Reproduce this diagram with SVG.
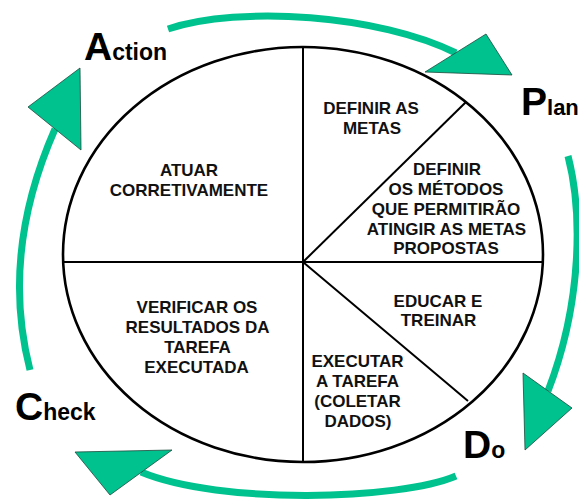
<svg xmlns="http://www.w3.org/2000/svg" width="579" height="503" viewBox="0 0 579 503">
<style>
.t{font-family:"Liberation Sans",Arial,sans-serif;font-weight:bold;font-size:17px;fill:#111;text-anchor:middle}
.big{font-family:"Liberation Sans",Arial,sans-serif;font-weight:bold;fill:#000}
.cap{font-size:39px}
.sm{font-size:23px}
.band{fill:none;stroke:#00C28F;stroke-width:7}
.head{fill:#00C28F;stroke:#1d4a3c;stroke-width:0.8;stroke-linejoin:miter}
.div{stroke:#000;stroke-width:2;fill:none}
</style>
<rect width="579" height="503" fill="#fff"/>
<g id="cycle">
<ellipse cx="303" cy="254.5" rx="240" ry="207.5" fill="#fff" stroke="#000" stroke-width="2.6"/>
<line class="div" x1="303" y1="47" x2="303" y2="462"/>
<line class="div" x1="63" y1="262" x2="543" y2="262"/>
<line class="div" x1="303" y1="262" x2="466" y2="102"/>
<line class="div" x1="303" y1="262" x2="468" y2="401"/>
</g>
<g id="atuar"><text class="t" x="189" y="176">ATUAR</text><text class="t" x="189" y="196">CORRETIVAMENTE</text></g>
<g id="definir-metas"><text class="t" x="371" y="114">DEFINIR AS</text><text class="t" x="372" y="134">METAS</text></g>
<g id="definir-metodos"><text class="t" x="447" y="175">DEFINIR</text><text class="t" x="446" y="195">OS MÉTODOS</text><text class="t" x="446" y="215">QUE PERMITIRÃO</text><text class="t" x="446.5" y="235">ATINGIR AS METAS</text><text class="t" x="446" y="254">PROPOSTAS</text></g>
<g id="educar"><text class="t" x="438" y="307">EDUCAR E</text><text class="t" x="438.5" y="326">TREINAR</text></g>
<g id="executar"><text class="t" x="357.5" y="367">EXECUTAR</text><text class="t" x="357.5" y="387">A TAREFA</text><text class="t" x="357.5" y="407">(COLETAR</text><text class="t" x="358" y="427">DADOS)</text></g>
<g id="verificar"><text class="t" x="197" y="313">VERIFICAR OS</text><text class="t" x="197.5" y="333">RESULTADOS DA</text><text class="t" x="197.5" y="353">TAREFA</text><text class="t" x="196.5" y="373">EXECUTADA</text></g>
<g id="label-action"><text class="big" x="84" y="60"><tspan class="cap">A</tspan><tspan class="sm">ction</tspan></text></g>
<g id="label-plan"><text class="big" x="521" y="115"><tspan class="cap">P</tspan><tspan style="font-size:22px">lan</tspan></text></g>
<g id="label-do"><text class="big" x="463" y="458"><tspan class="cap">D</tspan><tspan class="sm">o</tspan></text></g>
<g id="label-check"><text class="big" x="15" y="420"><tspan class="cap">C</tspan><tspan class="sm">heck</tspan></text></g>
<g id="connectors">
<path class="band" d="M168,29 C240,5 380,15 456,53"/>
<polygon class="head" points="425,72 486,34 512,75"/>
<path class="band" d="M568,156 C582,210 583,300 548,391"/>
<polygon class="head" points="523,373 572,408 525,450"/>
<path class="band" d="M456,476 C400,500 220,505 141,472"/>
<polygon class="head" points="75,452 172,450 110,495"/>
<path class="band" d="M30,370 C12,300 15,220 55,129"/>
<polygon class="head" points="28,107 80,68 81,150"/>
</g>
</svg>
